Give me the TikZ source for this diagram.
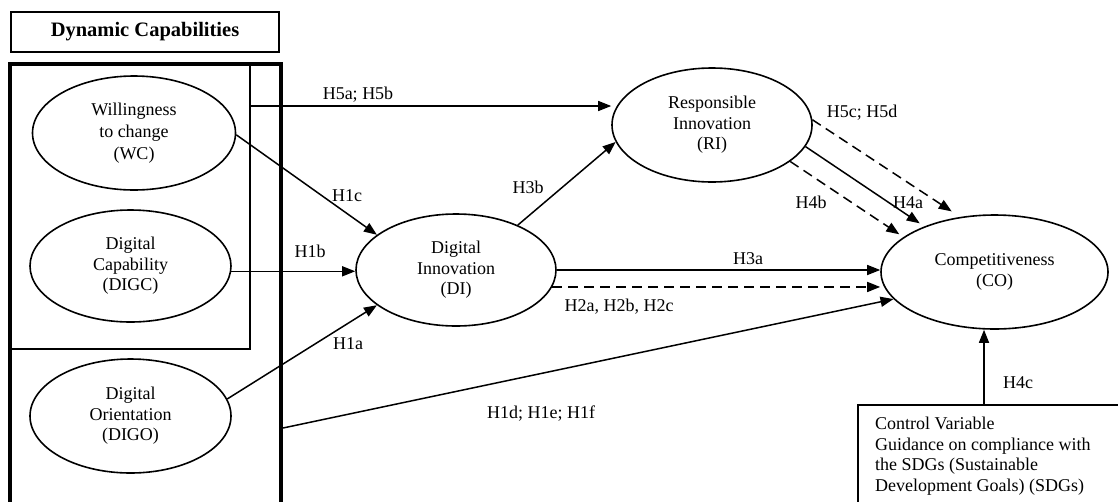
\documentclass[tikz,border=0pt]{standalone}
\usepackage{fontspec}
\setmainfont{Liberation Serif}
\usetikzlibrary{shapes.geometric,arrows.meta}
\begin{document}
\begin{tikzpicture}[x=1pt,y=-1pt,
  every node/.style={font=\fontsize{18}{20.5}\selectfont},
  ell/.style={draw, ellipse, line width=1.6pt, inner sep=0pt, align=center},
  lab/.style={inner sep=0pt},
  conn/.style={line width=1.5pt, -{Triangle[length=13pt,width=10pt]}},
  dconn/.style={conn, dash pattern=on 10pt off 6pt},
  ]
\useasboundingbox (0,0) rectangle (1118,501);
\clip (0,0) rectangle (1118,501);

% title box
\node[draw, line width=1.5pt, minimum width=268pt, minimum height=40pt, inner sep=0pt,
      font=\fontsize{20.5}{22}\selectfont\bfseries] (DC) at (145,32) {Dynamic Capabilities};

% group boxes
\draw[line width=4pt] (9.5,64) rectangle (281,540);
\draw[line width=1.5pt] (250,64) -- (250,349) -- (9.5,349);

% constructs
\node[ell, minimum width=203pt, minimum height=114pt, font=\fontsize{18}{22}\selectfont] (WC) at (134,133) {Willingness\\to change\\(WC)};
\node[ell, minimum width=201pt, minimum height=112pt] (DIGC) at (130.5,266) {Digital\\Capability\\(DIGC)};
\node[ell, minimum width=201pt, minimum height=114pt] (DIGO) at (130.5,416) {Digital\\Orientation\\(DIGO)};
\node[ell, minimum width=200pt, minimum height=112pt] (DI) at (456,270) {Digital\\Innovation\\(DI)};
\node[ell, minimum width=200pt, minimum height=114pt] (RI) at (712,125) {Responsible\\Innovation\\(RI)};
\node[ell, minimum width=227pt, minimum height=114pt] (CO) at (994.5,272) {Competitiveness\\(CO)};

% control variable box
\node[draw, line width=1.5pt, anchor=north west, minimum width=300pt, minimum height=130pt, inner sep=0pt] (CVbox) at (857,404) {};
\node[anchor=north west, align=left, inner sep=0pt] (CV) at (875,417)
  {Control Variable\\Guidance on compliance with\\the SDGs (Sustainable\\Development Goals) (SDGs)};

% free ends
\coordinate (h5s) at (250,106);
\coordinate (h1ds) at (283,428);
\coordinate (h4cs) at (984,404);

% connectors
\draw[conn] (h5s) -- (h5s -| RI.west);
\draw[conn] (WC.-1) -- (DI.156);
\draw[conn] (DIGC.-3.4) -- (DIGC.-3.4 -| DI.west);
\draw[conn] (DIGO.10) -- (DI.204.6);
\draw[conn] (h1ds) -- (CO.195.4);
\draw[conn] (DI.36.3) -- (RI.190.3);
\draw[conn] (DI.east) -- (DI.east -| CO.west);
\draw[dconn] (DI.-10.8) -- (DI.-10.8 -| CO.west);
\draw[conn, shorten >=5.5pt] (RI.-13.5) -- (CO.147.3);
\draw[dconn, shorten >=10pt] (RI.3) -- (CO.122);
\draw[dconn, shorten >=5pt] (RI.-25) -- (CO.159.2);
\draw[conn] (h4cs) -- (h4cs |- CO.south);

% labels
\node[lab] (l5ab) at (358,95) {H5a; H5b};
\node[lab] (l1c) at (347,196) {H1c};
\node[lab] (l1b) at (310,251) {H1b};
\node[lab] (l1a) at (348,344) {H1a};
\node[lab] (l1d) at (541,414) {H1d; H1e; H1f};
\node[lab] (l3b) at (528,187) {H3b};
\node[lab] (l3a) at (748,259) {H3a};
\node[lab] (l2) at (619,307) {H2a, H2b, H2c};
\node[lab] (l5cd) at (862,113) {H5c; H5d};
\node[lab] (l4b) at (811,202) {H4b};
\node[lab] (l4a) at (908,203) {H4a};
\node[lab] (l4c) at (1018,383) {H4c};
\end{tikzpicture}
\end{document}
